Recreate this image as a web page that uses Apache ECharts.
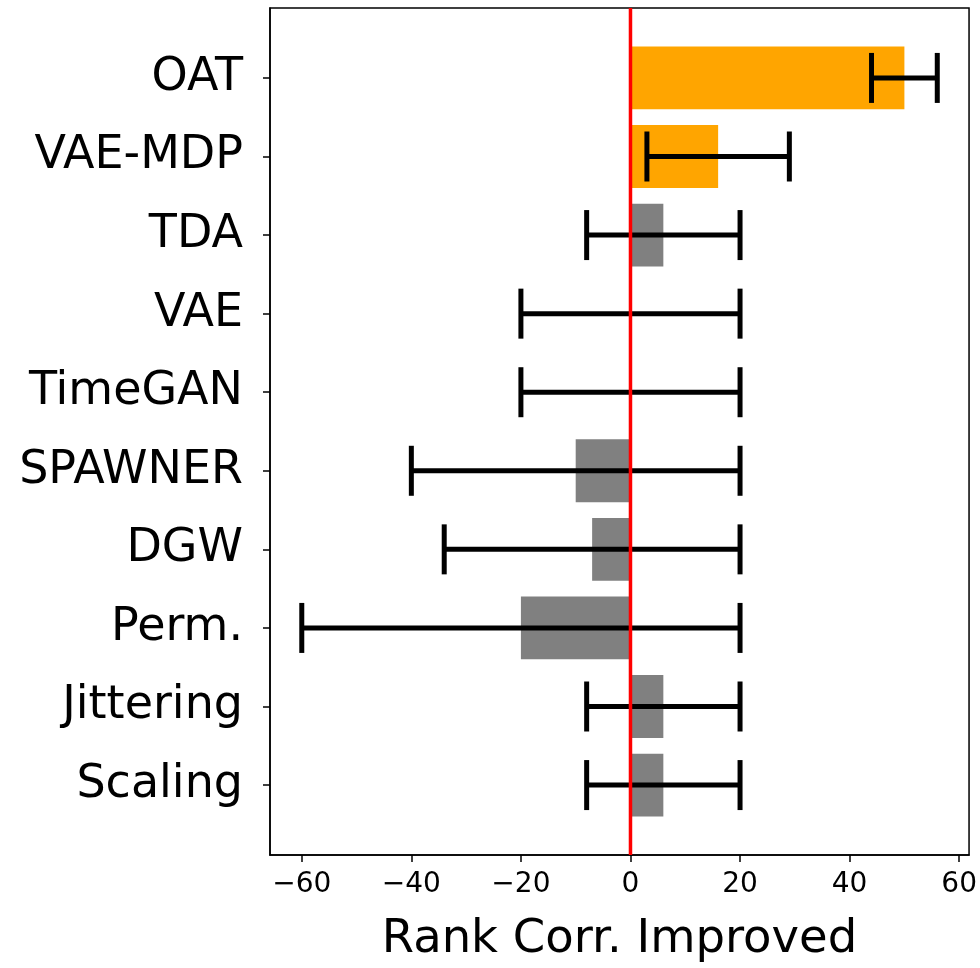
<!DOCTYPE html>
<html>
<head>
<meta charset="utf-8">
<script src="https://cdn.jsdelivr.net/npm/echarts@6/dist/echarts.min.js"></script>
<style>html,body{margin:0;padding:0;background:#fff;}#c{width:980px;height:968px;}</style>
</head>
<body>
<div id="c"></div>
<script>
const categories = ['OAT','VAE-MDP','TDA','VAE','TimeGAN','SPAWNER','DGW','Perm.','Jittering','Scaling'];
const values = [50, 16, 6, 0, 0, -10, -7, -20, 6, 6];
const errLow = [44, 3, -8, -20, -20, -40, -34, -60, -8, -8];
const errHigh = [56, 29, 20, 20, 20, 20, 20, 20, 20, 20];
const highlighted = ['OAT','VAE-MDP'];
const xTicks = [-60, -40, -20, 0, 20, 40, 60];

const FONT = 'DejaVu Sans';
const chart = echarts.init(document.getElementById('c'), null, {renderer: 'canvas'});

const barData = values.map((v, i) => [v, i]);
const errData = values.map((v, i) => [errLow[i], errHigh[i], i]);
const idx = categories.map((c, i) => i);

chart.setOption({
  animation: false,
  backgroundColor: '#fff',
  grid: {left: 270, right: 10, top: 8, bottom: 110, show: true, borderColor: '#000', borderWidth: 1.5, backgroundColor: 'transparent'},
  xAxis: {
    type: 'value', min: -65.8, max: 61.8,
    name: 'Rank Corr. Improved', nameLocation: 'middle', nameGap: 61,
    nameTextStyle: {fontFamily: FONT, fontSize: 46.5, color: '#000'},
    axisLine: {show: true, onZero: false, lineStyle: {color: '#000', width: 1.5}},
    axisTick: {show: true, length: 7, lineStyle: {color: '#000', width: 1.5}, customValues: xTicks},
    axisLabel: {fontFamily: FONT, fontSize: 28, color: '#000', margin: 16, customValues: xTicks,
      formatter: v => (v < 0 ? '\u2212' + Math.abs(v) : String(v))},
    splitLine: {show: false}
  },
  yAxis: {
    type: 'value', min: -0.89, max: 9.89, inverse: true,
    axisLine: {show: true, onZero: false, lineStyle: {color: '#000', width: 1.5}},
    axisTick: {show: true, length: 7, lineStyle: {color: '#000', width: 1.5}, customValues: idx},
    axisLabel: {fontFamily: FONT, fontSize: 46, color: '#000', margin: 27, customValues: idx,
      padding: [5, 0, 0, 0],
      formatter: v => categories[Math.round(v)]},
    splitLine: {show: false}
  },
  series: [
    {
      type: 'custom', data: barData, encode: {x: 0, y: 1}, z: 2,
      renderItem: (params, api) => {
        const v = api.value(0), i = api.value(1);
        const a = api.coord([0, i]), b = api.coord([v, i]);
        const h = api.size([0, 0.8])[1];
        const color = highlighted.indexOf(categories[i]) >= 0 ? '#FFA500' : '#808080';
        return {type: 'rect', shape: {x: Math.min(a[0], b[0]), y: a[1] - h / 2, width: Math.abs(b[0] - a[0]), height: h},
          style: {fill: color}};
      }
    },
    {
      type: 'custom', data: errData, encode: {x: [0, 1], y: 2}, z: 3,
      renderItem: (params, api) => {
        const lo = api.value(0), hi = api.value(1), i = api.value(2);
        const a = api.coord([lo, i]), b = api.coord([hi, i]);
        const cap = 25;
        const st = {stroke: '#000', lineWidth: 5};
        return {type: 'group', children: [
          {type: 'line', shape: {x1: a[0], y1: a[1], x2: b[0], y2: b[1]}, style: st},
          {type: 'line', shape: {x1: a[0], y1: a[1] - cap, x2: a[0], y2: a[1] + cap}, style: st},
          {type: 'line', shape: {x1: b[0], y1: b[1] - cap, x2: b[0], y2: b[1] + cap}, style: st}
        ]};
      }
    },
    {
      type: 'custom', data: [[0, -0.89, 9.89]], encode: {x: 0, y: [1, 2]}, z: 4,
      renderItem: (params, api) => {
        const a = api.coord([api.value(0), api.value(1)]), b = api.coord([api.value(0), api.value(2)]);
        return {type: 'line', shape: {x1: a[0], y1: a[1], x2: b[0], y2: b[1]}, style: {stroke: '#FF0000', lineWidth: 3.5}};
      }
    }
  ]
});
</script>
</body>
</html>
